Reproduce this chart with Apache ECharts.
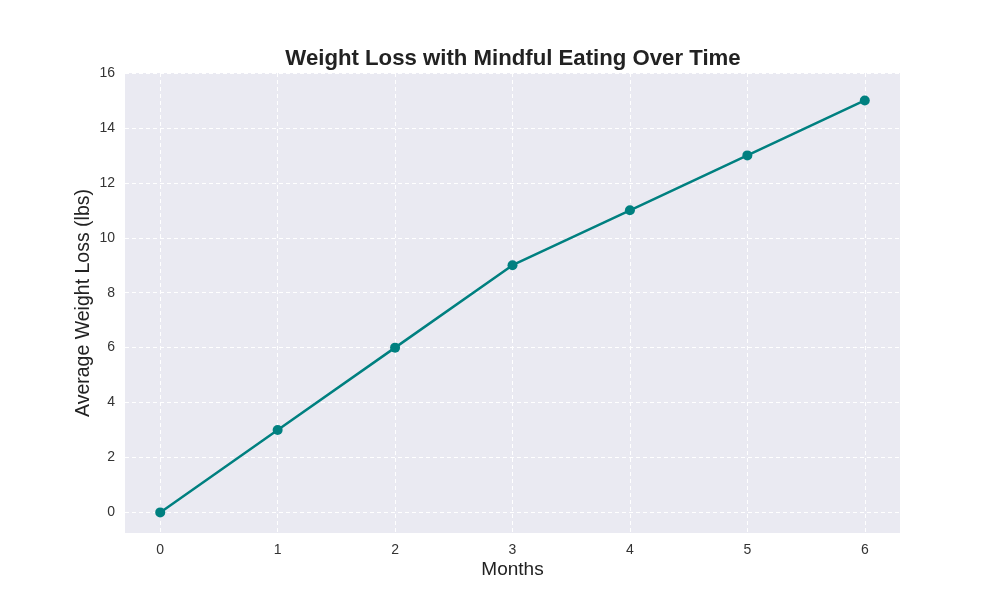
<!DOCTYPE html>
<html>
<head>
<meta charset="utf-8">
<script src="https://cdn.jsdelivr.net/npm/echarts@6/dist/echarts.min.js"></script>
<style>html,body{margin:0;padding:0;background:#fff;}#c{width:1000px;height:600px;}</style>
</head>
<body>
<div id="c"></div>
<script>
const months = [0, 1, 2, 3, 4, 5, 6];
const weightLoss = [0, 3, 6, 9, 11, 13, 15];
const xTicks = [0, 1, 2, 3, 4, 5, 6];
const yTicks = [0, 2, 4, 6, 8, 10, 12, 14, 16];

const chart = echarts.init(document.getElementById('c'));
const font = 'Liberation Sans, Arial, sans-serif';
chart.setOption({
  animation: false,
  title: {
    text: 'Weight Loss with Mindful Eating Over Time',
    left: 508, top: 43, textAlign: 'center',
    textStyle: {fontFamily: font, fontSize: 22.2, fontWeight: 'bold', color: '#222'}
  },
  grid: {left: 125, right: 100, top: 73, bottom: 67, show: true, backgroundColor: '#EAEAF2', borderWidth: 0},
  xAxis: {
    type: 'value', min: -0.3, max: 6.3,
    name: 'Months', nameLocation: 'middle', nameGap: 27, nameMoveOverlap: false,
    nameTextStyle: {fontFamily: font, fontSize: 19, color: '#222'},
    axisLine: {show: false},
    axisTick: {show: false, customValues: xTicks},
    axisLabel: {customValues: xTicks, fontFamily: font, fontSize: 14, color: '#333', margin: 10},
    splitLine: {show: true, lineStyle: {color: '#fff', type: [4, 3], width: 1}}
  },
  yAxis: {
    type: 'value', min: -0.75, max: 16,
    name: 'Average Weight Loss (lbs)', nameLocation: 'middle', nameGap: 31, nameMoveOverlap: false,
    nameTextStyle: {fontFamily: font, fontSize: 19.5, color: '#222'},
    axisLine: {show: false},
    axisTick: {show: false, customValues: yTicks},
    axisLabel: {customValues: yTicks, fontFamily: font, fontSize: 14, color: '#333', margin: 10},
    splitLine: {show: true, lineStyle: {color: '#fff', type: [4, 3], width: 1}}
  },
  series: [{
    type: 'line',
    data: months.map((m, i) => [m, weightLoss[i]]),
    symbol: 'circle', symbolSize: 10,
    lineStyle: {color: '#008080', width: 2.5},
    itemStyle: {color: '#008080'}
  }]
});
</script>
</body>
</html>
